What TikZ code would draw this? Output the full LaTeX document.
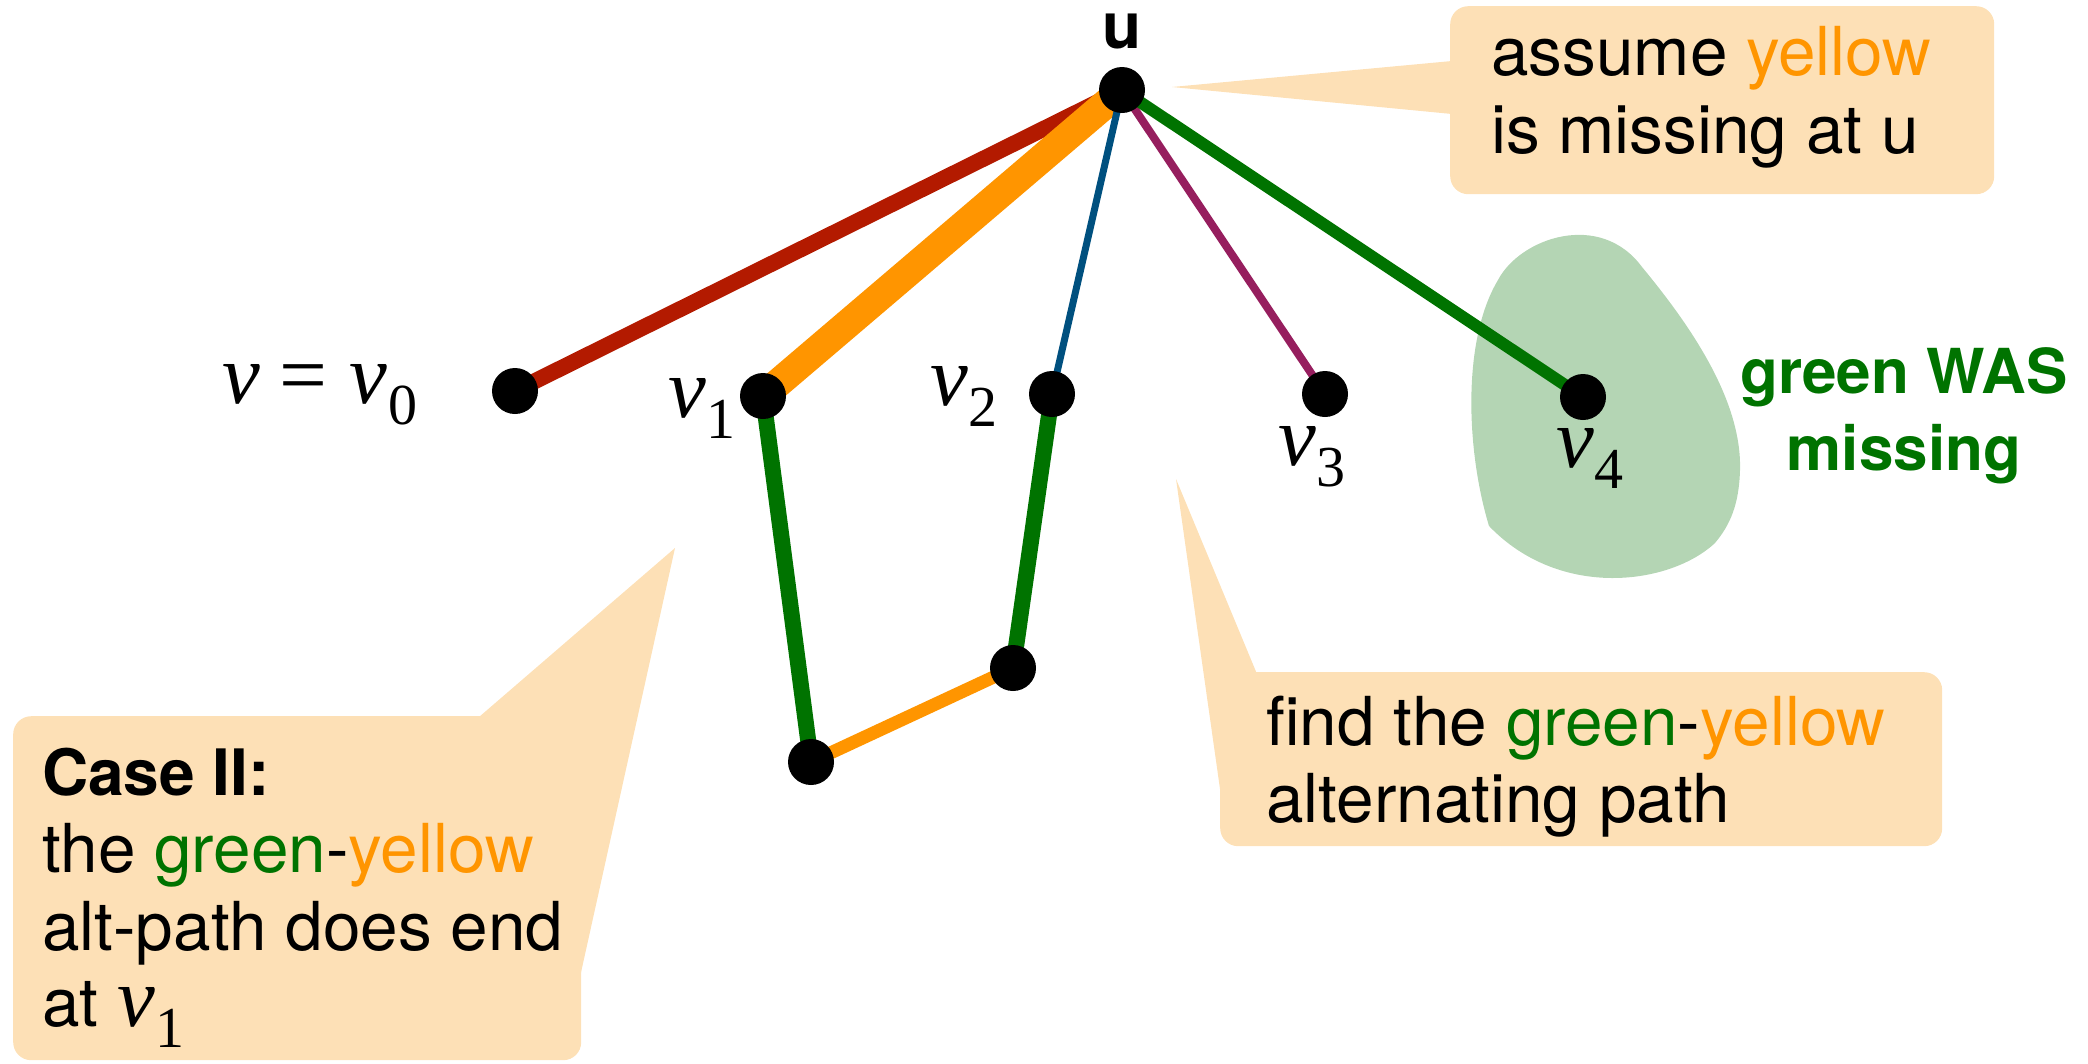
\documentclass[tikz,border=0pt]{standalone}
\usepackage{fontspec}
\setmainfont{TeX Gyre Heros}
\newfontfamily\tms{Liberation Serif}
\definecolor{cpeach}{HTML}{FDE0B6}
\definecolor{cred}{HTML}{B31A00}
\definecolor{corange}{HTML}{FF9500}
\definecolor{cgreen}{HTML}{007300}
\definecolor{cblue}{HTML}{00507F}
\definecolor{cpurple}{HTML}{961E5E}
\definecolor{cblob}{HTML}{B4D5B4}
\newcommand\mvar[1]{{\tms\fontsize{85}{85}\selectfont\itshape v\kern1pt\raisebox{-21pt}{\fontsize{58}{58}\selectfont\upshape #1}}}
\pgfdeclarelayer{back}
\pgfdeclarelayer{edges}
\pgfsetlayers{back,edges,main}
\begin{document}
\begin{tikzpicture}[x=1pt,y=-1pt,
  dot/.style={circle,fill=black,minimum size=46pt,inner sep=0pt},
  calloutbox/.style={fill=cpeach,rounded corners=18pt,draw=none,inner sep=0pt,anchor=north west},
  pointer/.style={fill=cpeach,draw=none},
  txt/.style={anchor=base west,inner sep=0pt,font=\fontsize{67.5}{78}\selectfont},
  boldtxt/.style={anchor=base,inner sep=0pt,font=\fontsize{62}{62}\selectfont\bfseries,text=cgreen},
  lbl/.style={anchor=base west,inner sep=0pt}]
\useasboundingbox (0,0) rectangle (2088,1063);

% vertices
\node[dot] (u)  at (1122,90) {};
\node[dot] (v0) at (515,391) {};
\node[dot] (v1) at (763,396) {};
\node[dot] (v2) at (1052,394) {};
\node[dot] (v3) at (1325,394) {};
\node[dot] (v4) at (1583,397) {};
\node[dot] (w1) at (811,762) {};
\node[dot] (w2) at (1013,668) {};

% blob
\begin{pgfonlayer}{back}
\fill[cblob] (1489,526) .. controls (1466,450) and (1462,340) .. (1498,280)
  .. controls (1520,238) and (1600,210) .. (1642,267)
  .. controls (1690,325) and (1742,400) .. (1740,470)
  .. controls (1739,505) and (1730,525) .. (1715,543)
  .. controls (1670,585) and (1560,600) .. (1489,526) -- cycle;
% callouts
\node[calloutbox,minimum width=544pt,minimum height=188pt] (box1) at (1450,6) {};
\coordinate (tip1) at (1172,87);
\fill[pointer] (tip1) -- (1452,61) -- (1452,114) -- cycle;
\node[calloutbox,minimum width=722pt,minimum height=174pt] (box2) at (1220,672) {};
\coordinate (tip2) at (1176,479);
\fill[pointer] (tip2) -- (1257,674) -- (1221,796) -- cycle;
\node[calloutbox,minimum width=568pt,minimum height=344pt] (box3) at (13,716) {};
\coordinate (tip3) at (675,548);
\fill[pointer] (tip3) -- (479,717) -- (580,977) -- cycle;
\end{pgfonlayer}

% edges
\begin{pgfonlayer}{edges}
\draw[cred,line width=16pt] (u.center) -- (v0.center);
\draw[corange,line width=29pt] (u.center) -- (v1.center);
\draw[cblue,line width=7pt] (u.center) -- (v2.center);
\draw[cpurple,line width=8pt] (u.center) -- (v3.center);
\draw[cgreen,line width=12pt] (u.center) -- (v4.center);
\draw[cgreen,line width=16pt] (v1.center) -- (w1.center);
\draw[corange,line width=13pt] (w1.center) -- (w2.center);
\draw[cgreen,line width=16pt] (w2.center) -- (v2.center);
\end{pgfonlayer}

% vertex labels
\node[anchor=base,inner sep=0pt,font=\fontsize{64}{64}\selectfont\bfseries] (ulbl) at (1122,48) {u};
\node[lbl] (v0lbl) at (222,403) {{\tms\fontsize{85}{85}\selectfont\itshape v\upshape\kern20pt=\kern22pt}\mvar{0}};
\node[lbl] (v1lbl) at (668,417) {\mvar{1}};
\node[lbl] (v2lbl) at (930,405) {\mvar{2}};
\node[lbl] (v3lbl) at (1278,465) {\mvar{3}};
\node[lbl] (v4lbl) at (1556,467) {\mvar{4}};

% callout texts
\node[txt] (t1a) at (1491,75) {assume \textcolor{corange}{yellow}};
\node[txt] (t1b) at (1491,153) {is missing at u};
\node[txt] (t2a) at (1266,745) {find the \textcolor{cgreen}{green}-\textcolor{corange}{yellow}};
\node[txt] (t2b) at (1266,822) {alternating path};
\node[txt,font=\fontsize{64}{64}\selectfont\bfseries] (t3a) at (42,795) {Case II:};
\node[txt] (t3b) at (42,872) {the \textcolor{cgreen}{green}-\textcolor{corange}{yellow}};
\node[txt] (t3c) at (42,950) {alt-path does end};
\node[txt] (t3d) at (42,1026) {at \mvar{1}};

% blob text
\node[boldtxt] (g1) at (1904,393) {green WAS};
\node[boldtxt] (g2) at (1904,470) {missing};
\end{tikzpicture}
\end{document}
